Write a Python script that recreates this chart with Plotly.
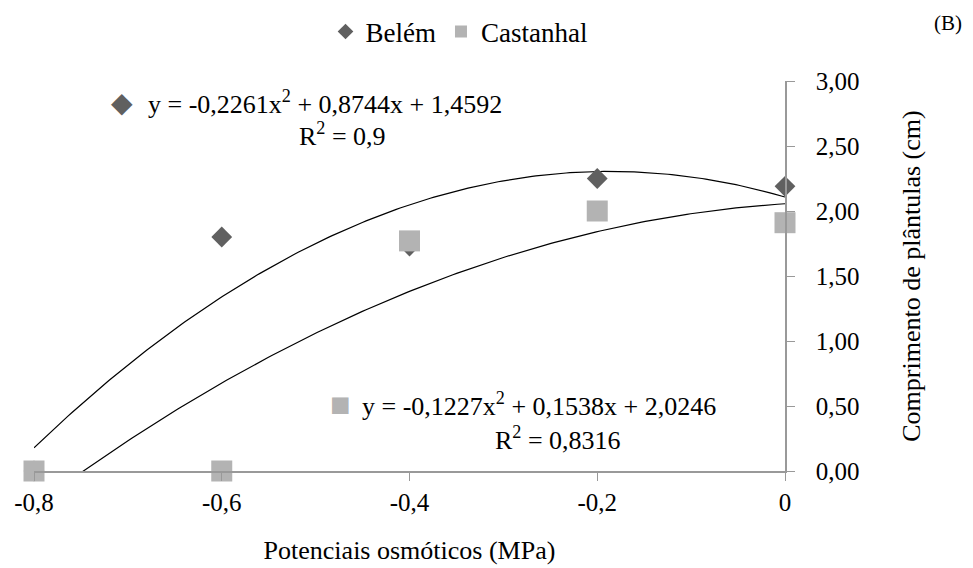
import plotly.graph_objects as go
import numpy as np

# Data
potenciais = [-0.8, -0.6, -0.4, -0.2, 0.0]
belem = [0.0, 1.80, 1.73, 2.25, 2.19]
castanhal = [0.0, 0.0, 1.77, 2.00, 1.91]

# Trendline coefficients (a, b, c) for y = a*x^2 + b*x + c, x = treatment index (1 at 0 MPa)
coef_belem = [-0.2261, 0.8744, 1.4592]
coef_castanhal = [-0.1227, 0.1538, 2.0246]

x_ticks = [-0.8, -0.6, -0.4, -0.2, 0.0]
x_ticktext = ["-0,8", "-0,6", "-0,4", "-0,2", "0"]
y_ticks = [0, 0.5, 1.0, 1.5, 2.0, 2.5, 3.0]
y_ticktext = ["0,00", "0,50", "1,00", "1,50", "2,00", "2,50", "3,00"]

FONT = "Liberation Serif"
C_BELEM = "#606060"
C_CAST = "#b3b3b3"

# page offset (body margin) and plot area in page pixels
OFF = 8
PL, PR, PT, PB = 34, 785, 81, 471
W, H = 973, 568
ML, MT = PL - OFF, PT - OFF
MR, MB = W - (PR - OFF), H - (PB - OFF)

def px2paper(px, py):
    return (px - PL) / (PR - PL), (PB - py) / (PB - PT)

def trend(coef, mpa):
    idx = 1 - mpa / 0.2
    return coef[0] * idx**2 + coef[1] * idx + coef[2]

xs = np.linspace(-0.8, 0.0, 200)

fig = go.Figure()
fig.add_trace(go.Scatter(x=xs, y=trend(coef_belem, xs), mode="lines",
                         line=dict(color="black", width=1.2), showlegend=False, hoverinfo="skip"))
fig.add_trace(go.Scatter(x=xs, y=trend(coef_castanhal, xs), mode="lines",
                         line=dict(color="black", width=1.2), showlegend=False, hoverinfo="skip"))
fig.add_trace(go.Scatter(x=potenciais, y=belem, mode="markers", name="Belém",
                         marker=dict(symbol="diamond", size=16, color=C_BELEM),
                         cliponaxis=False))
fig.add_trace(go.Scatter(x=potenciais, y=castanhal, mode="markers", name="Castanhal",
                         marker=dict(symbol="square", size=21, color=C_CAST),
                         cliponaxis=False))

def add_text(px, py, text, size, color="black", xanchor="center"):
    ax, ay = px2paper(px, py)
    fig.add_annotation(x=ax, y=ay, xref="paper", yref="paper", showarrow=False,
                       xanchor=xanchor, yanchor="middle", text=text,
                       font=dict(family=FONT, size=size, color=color))

# Belém trendline label
add_text(122, 102, "◆", 28, C_BELEM)
add_text(146, 102, "y = -0,2261x<sup>2</sup> + 0,8744x + 1,4592", 26, xanchor="left")
add_text(342, 135, "R<sup>2</sup> = 0,9", 26)
# Castanhal trendline label
add_text(340, 404, "■", 34, C_CAST)
add_text(360, 404, "y = -0,1227x<sup>2</sup> + 0,1538x + 2,0246", 26, xanchor="left")
add_text(558, 438, "R<sup>2</sup> = 0,8316", 26)
# panel letter
add_text(948, 23, "(B)", 21)

lx, _ = px2paper(459, 0)
fig.update_layout(
    width=W, height=H,
    margin=dict(l=ML, r=MR, t=MT, b=MB, autoexpand=False),
    paper_bgcolor="white", plot_bgcolor="white",
    font=dict(family=FONT, size=25, color="black"),
    legend=dict(orientation="h", x=lx, xanchor="center", y=1 - (32 - OFF) / H, yref="container",
                yanchor="middle", font=dict(family=FONT, size=27), itemsizing="constant",
                itemwidth=30, tracegroupgap=0),
    xaxis=dict(range=[-0.8, 0.0], tickvals=x_ticks, ticktext=x_ticktext, automargin=False,
               showgrid=False, zeroline=False, showline=True, linecolor="#999999", linewidth=1.5,
               ticks="outside", ticklen=8, tickcolor="#999999",
               tickfont=dict(family=FONT, size=25),
               title=dict(text="Potenciais osmóticos (MPa)", font=dict(family=FONT, size=26), standoff=26)),
    yaxis=dict(range=[0, 3.0], tickvals=y_ticks, ticktext=y_ticktext, side="right", automargin=False,
               showgrid=False, zeroline=False, showline=True, linecolor="#999999", linewidth=1.5,
               ticks="outside", ticklen=8, tickcolor="#999999", ticklabelstandoff=16,
               tickfont=dict(family=FONT, size=25),
               title=dict(text="Comprimento de plântulas (cm)", font=dict(family=FONT, size=26), standoff=43)),
)

fig.write_html("out.html")
